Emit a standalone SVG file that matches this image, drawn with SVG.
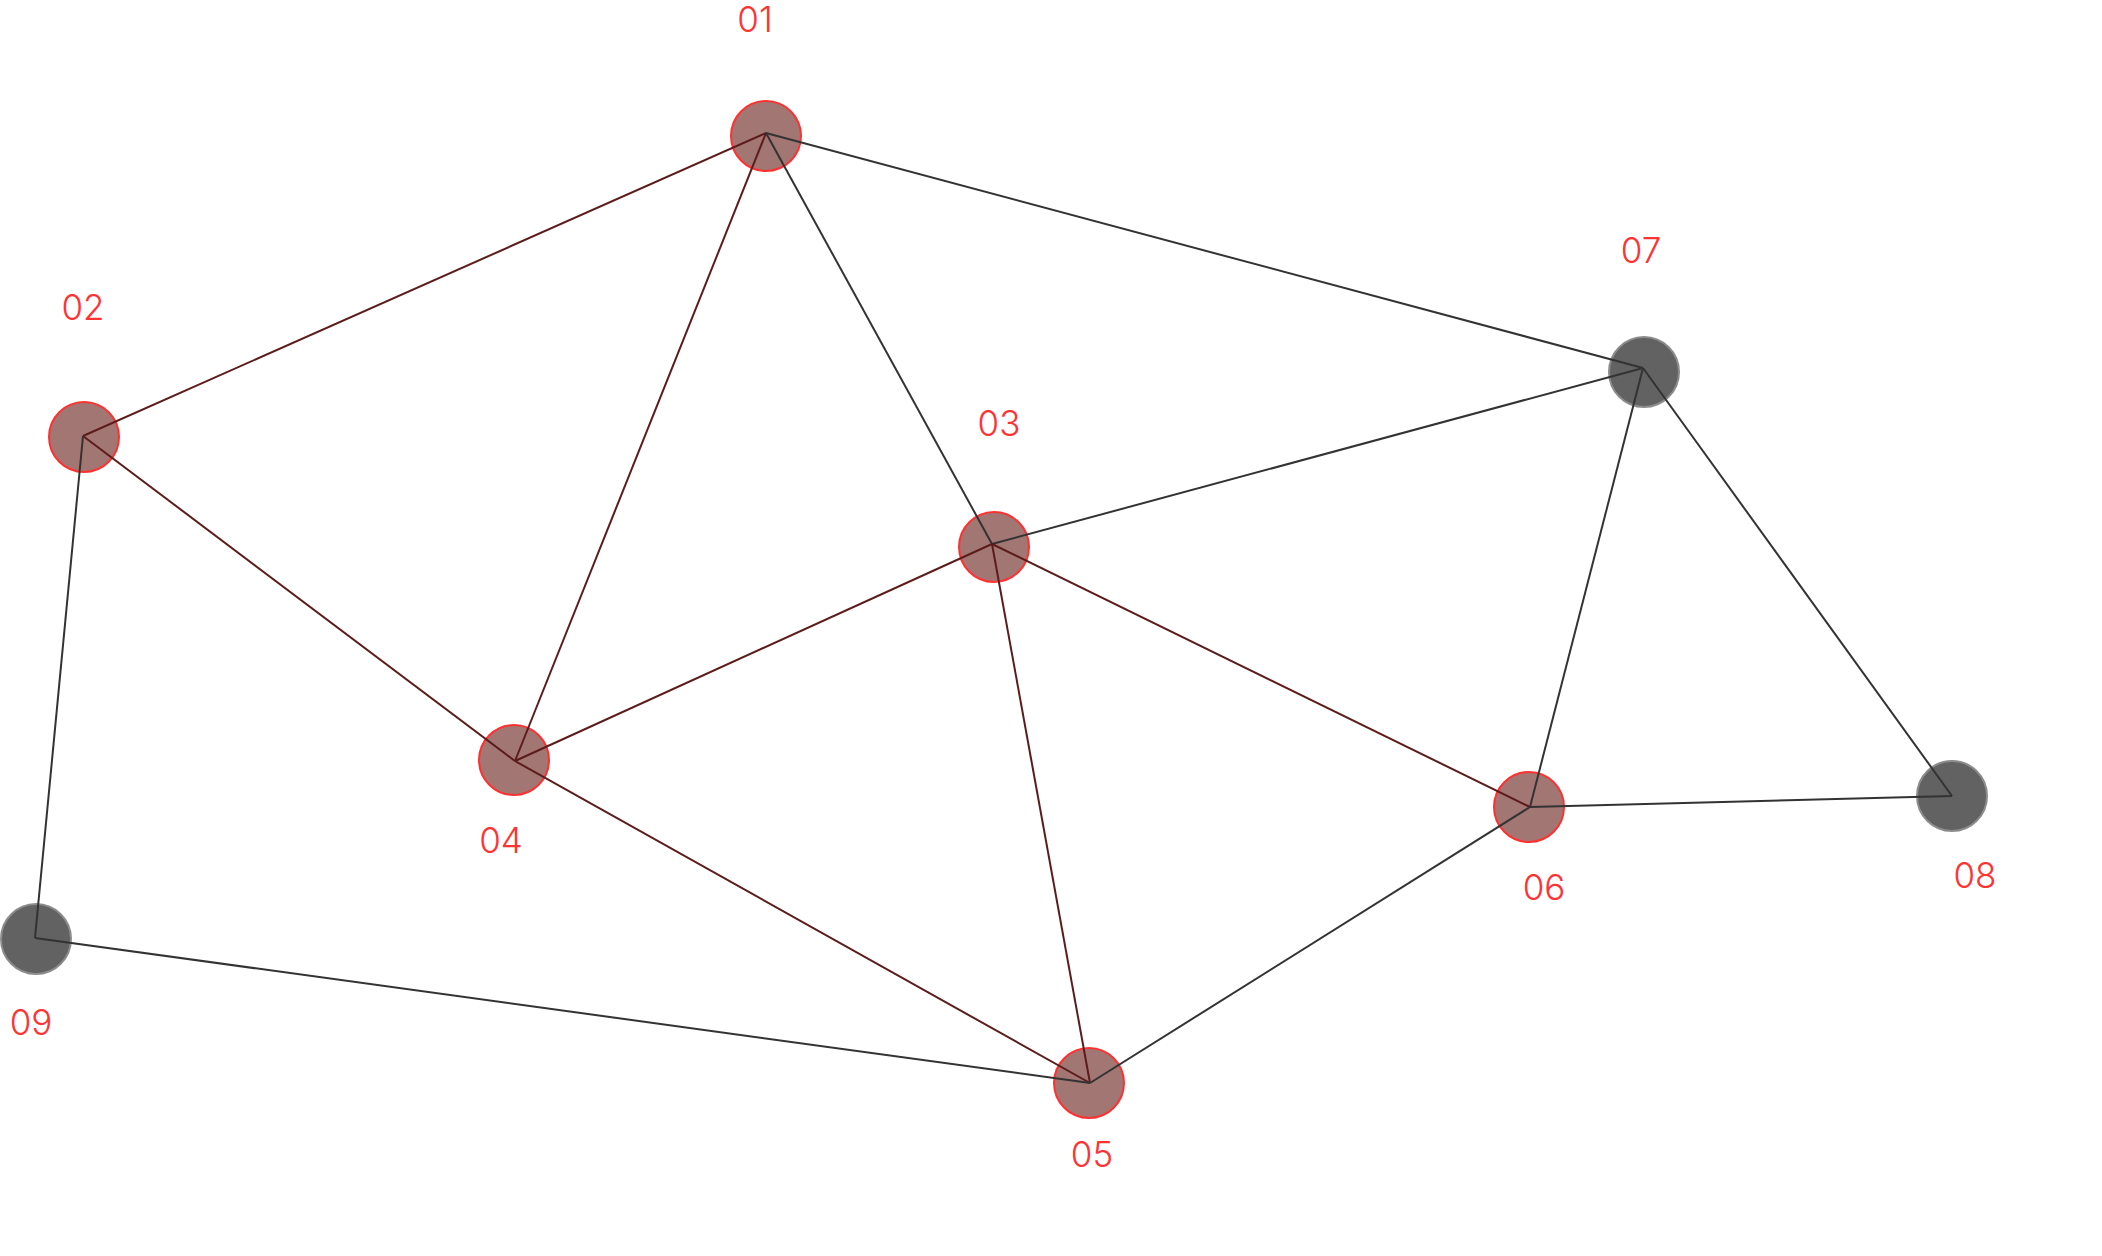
<svg xmlns="http://www.w3.org/2000/svg" width="2102" height="1256" viewBox="0 0 2102 1256">
<style>
.bg{fill:#ffffff}
.nr{fill:#a27672;stroke:#ff3030;stroke-width:2}
.ng{fill:#626262;stroke:#8c8c8c;stroke-width:2}
.lbl{font-family:Inter,"Liberation Sans",sans-serif;font-weight:300;font-size:35px;fill:#ff3333;text-anchor:middle}
.er{stroke:#5c1c1c;stroke-width:2;fill:none}
.eg{stroke:#333333;stroke-width:2;fill:none}
</style>
<rect class="bg" x="0" y="0" width="2102" height="1256"/>
<g id="nodes">
<g id="n01"><circle class="nr" cx="766" cy="136" r="35"/><text class="lbl" x="755" y="32">01</text></g>
<g id="n02"><circle class="nr" cx="84" cy="437" r="35"/><text class="lbl" x="83" y="320">02</text></g>
<g id="n03"><circle class="nr" cx="994" cy="547" r="35"/><text class="lbl" x="999" y="436">03</text></g>
<g id="n04"><circle class="nr" cx="514" cy="760" r="35"/><text class="lbl" x="501" y="853">04</text></g>
<g id="n05"><circle class="nr" cx="1089" cy="1083" r="35"/><text class="lbl" x="1092" y="1167">05</text></g>
<g id="n06"><circle class="nr" cx="1529" cy="807" r="35"/><text class="lbl" x="1544" y="900">06</text></g>
<g id="n07"><circle class="ng" cx="1644" cy="372" r="35"/><text class="lbl" x="1641" y="263">07</text></g>
<g id="n08"><circle class="ng" cx="1952" cy="796" r="35"/><text class="lbl" x="1975" y="888">08</text></g>
<g id="n09"><circle class="ng" cx="36" cy="939" r="35"/><text class="lbl" x="31" y="1035">09</text></g>
</g>
<g id="connectors">
<line class="er" x1="766" y1="133" x2="83" y2="436"/>
<line class="er" x1="766" y1="133" x2="515" y2="761"/>
<line class="eg" x1="766" y1="133" x2="992" y2="544"/>
<line class="eg" x1="766" y1="133" x2="1643" y2="368"/>
<line class="er" x1="83" y1="436" x2="515" y2="761"/>
<line class="eg" x1="83" y1="436" x2="35" y2="938"/>
<line class="eg" x1="992" y1="544" x2="1643" y2="368"/>
<line class="er" x1="992" y1="544" x2="515" y2="761"/>
<line class="er" x1="992" y1="544" x2="1090" y2="1083"/>
<line class="er" x1="992" y1="544" x2="1530" y2="807"/>
<line class="er" x1="515" y1="761" x2="1090" y2="1083"/>
<line class="eg" x1="35" y1="938" x2="1090" y2="1083"/>
<line class="eg" x1="1090" y1="1083" x2="1530" y2="807"/>
<line class="eg" x1="1530" y1="807" x2="1643" y2="368"/>
<line class="eg" x1="1530" y1="807" x2="1952" y2="796"/>
<line class="eg" x1="1643" y1="368" x2="1952" y2="796"/>
</g>
</svg>
